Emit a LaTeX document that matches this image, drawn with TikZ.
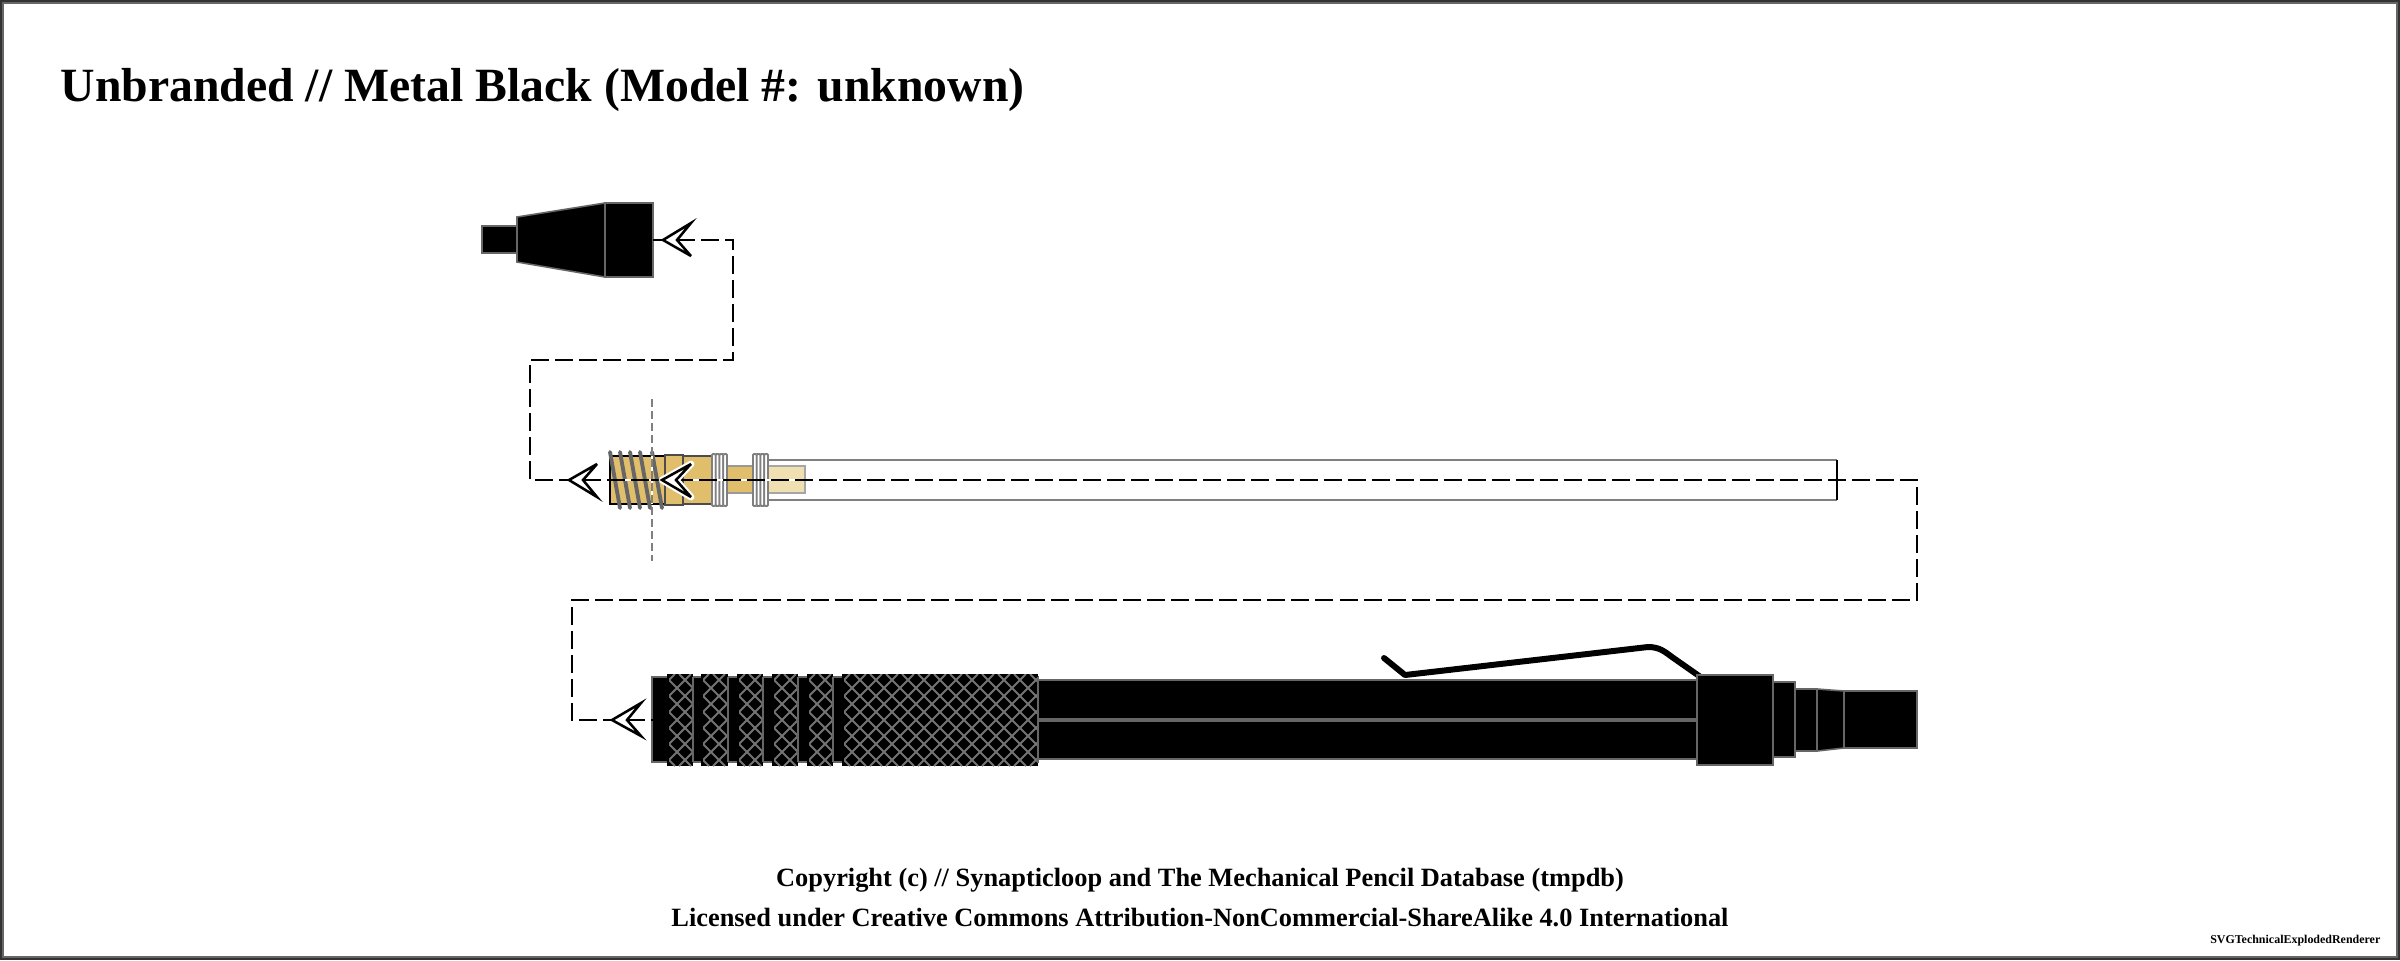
\documentclass[tikz,border=0pt]{standalone}
\usepackage{fontspec}
\setmainfont{Liberation Serif}
\usetikzlibrary{arrows.meta}
\definecolor{pgrey}{HTML}{666666}
\definecolor{gold}{HTML}{E0BE6B}
\definecolor{lgold}{HTML}{F0DFB0}
\tikzset{
  x=0.01cm,y=-0.01cm,
  part/.style={fill=black,draw=pgrey,line width=0.45pt},
  goldpart/.style={fill=gold,draw=black,line width=0.45pt},
  ringp/.style={fill=white,draw=gray,line width=0.55pt,rounded corners=0.3pt},
  spring/.style={draw=pgrey,line width=1.1pt,line cap=round},
  dashline/.style={draw=black,line width=0.72pt,dash pattern=on 5.12pt off 1.71pt},
  dashunder/.style={draw=white,line width=0.72pt},
  chevron/.style={draw=black,line width=0.72pt,fill=white,miter limit=6},
  halo/.style={draw=white,line width=1.9pt,line join=round,fill=white},
  hatch/.style={draw=gray!90!black,line width=0.55pt},
  label/.style={inner sep=0pt,anchor=base,font=\bfseries}
}
\begin{document}
\begin{tikzpicture}
\useasboundingbox (0,0) rectangle (2400,960);
\fill[white] (0,0) rectangle (2400,960);
\draw[draw=pgrey,line width=1.3pt] (2.2,2.2) rectangle (2397.8,957.8);
\draw[draw=black!80,line width=0.6pt] (1,1) rectangle (2399,959);

\node[label,anchor=base west,font=\bfseries\fontsize{13.57pt}{15pt}\selectfont] (title) at (60,101) {Unbranded // Metal Black (Model \#: unknown)};
\node[label,font=\bfseries\fontsize{7.5pt}{9pt}\selectfont] (c1) at (1200,886) {Copyright (c) // Synapticloop and The Mechanical Pencil Database (tmpdb)};
\node[label,font=\bfseries\fontsize{7.5pt}{9pt}\selectfont] (c2) at (1200,926) {Licensed under Creative Commons Attribution-NonCommercial-ShareAlike 4.0 International};
\node[label,anchor=base east,font=\bfseries\fontsize{3.4pt}{4pt}\selectfont] (c3) at (2381,943) {SVGTechnicalExplodedRenderer};

% cap
\draw[part] (482,226) rectangle (517,253);
\draw[part] (517,217) -- (605,203) -- (605,277) -- (517,262) -- cycle;
\draw[part] (605,203) rectangle (653,277);

% refill
\draw[fill=white,draw=none] (768,460) rectangle (1837,500);
\draw[draw=gray,line width=0.55pt] (768,460) -- (1837,460) (768,500) -- (1837,500);
\draw[draw=black,line width=0.35pt] (1837,460) -- (1837,500) (768,460) -- (768,500);
\draw[fill=lgold,draw=gray!70,line width=0.4pt] (768,466) rectangle (805,493);
\draw[goldpart] (610,456) rectangle (665,504);
\draw[goldpart,draw=black!70] (683,456) rectangle (712,504);
\draw[goldpart,draw=black!70] (665,455) rectangle (683,505);
\draw[fill=gold,draw=black!40,line width=0.4pt] (727,466) rectangle (753,493);
\foreach \i in {0,1,2,3}{
  \draw[ringp] ({712+\i*3.75},454) rectangle ({715.75+\i*3.75},506);
  \draw[ringp] ({753+\i*3.75},454) rectangle ({756.75+\i*3.75},506);
}
\draw[spring] (610,452) -- (620,508);
\draw[spring] (620,452) -- (630,508);
\draw[spring] (630,452) -- (640,508);
\draw[spring] (640,452) -- (650,508);
\draw[spring] (652,452) -- (662,508);
\draw[draw=white,line width=0.75pt] (652,456) -- (652,504);
\draw[draw=gray,line width=0.75pt,dash pattern=on 2.27pt off 1.14pt] (652,399) -- (652,561);

% barrel
\draw[part] (652,677) rectangle (1038,762);
\foreach \xa/\xb in {667/693,701/728,737/763,772/798,807/833,842/1038}{
  \fill[black] (\xa,674) rectangle (\xb,766);
  \begin{scope}
    \path[clip] ({\xa+2},674) rectangle (\xb,766);
    \foreach \k in {-6,...,26}{
      \draw[hatch] ({\xa+\k*16-100},674) -- ({\xa+\k*16-8},766);
      \draw[hatch] ({\xa+\k*16-8},674) -- ({\xa+\k*16-100},766);
    }
  \end{scope}
  \draw[draw=pgrey,line width=0.45pt] (\xb,677) -- (\xb,762);
}
\draw[part] (1038,680) rectangle (1697,759);
\draw[draw=pgrey,line width=0.95pt] (1038,720) -- (1697,720);
\draw[draw=black,line width=1.7pt,line cap=round,line join=round] (1384,658) -- (1405,675) -- (1648,647) .. controls (1660,647) and (1665,652) .. (1672,657) -- (1702,678);
\draw[part] (1697,675) rectangle (1773,765);
\draw[part] (1773,682) rectangle (1795,757);
\draw[part] (1795,689) rectangle (1817,751);
\draw[part] (1817,689) -- (1844,691) -- (1844,748) -- (1817,751) -- cycle;
\draw[part] (1844,691) rectangle (1917,748);

% connector 1
\coordinate (a1) at (653,240);
\coordinate (a2) at (733,240);
\coordinate (a3) at (733,360);
\coordinate (a4) at (530,360);
\coordinate (a5) at (530,480);
\coordinate (a6) at (651,480);
\draw[dashunder] (a5) -- (a6);
\draw[dashline] (a1) -- (a2) -- (a3) -- (a4) -- (a5) -- (a6);
\draw[chevron] (691,223) -- (663,240) -- (691,256) -- (677,240) -- cycle;
\draw[chevron] (597,464) -- (569,480) -- (597,497) -- (583,480) -- cycle;

% connector 2
\coordinate (b1) at (651,480);
\coordinate (b2) at (1917,480);
\coordinate (b3) at (1917,600);
\coordinate (b4) at (572,600);
\coordinate (b5) at (572,720);
\coordinate (b6) at (653,720);
\draw[dashunder] (b1) -- (b2);
\draw[dashline] (b1) -- (b2) -- (b3) -- (b4) -- (b5) -- (b6);
\draw[halo] (691,464) -- (662,480) -- (691,497) -- (676,480) -- cycle;
\draw[chevron] (691,464) -- (662,480) -- (691,497) -- (676,480) -- cycle;
\draw[chevron] (641,703) -- (612,720) -- (641,736) -- (627,720) -- cycle;
\end{tikzpicture}
\end{document}
